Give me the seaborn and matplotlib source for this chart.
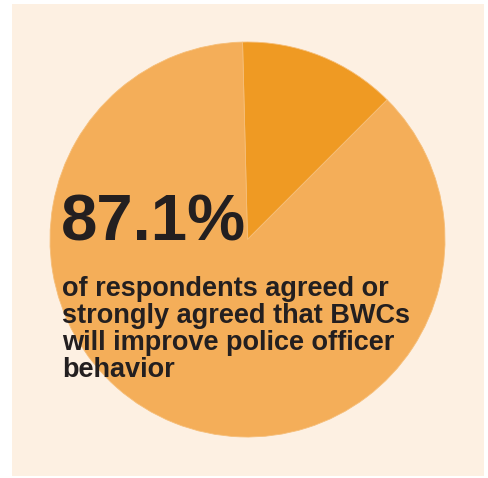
import matplotlib
matplotlib.use("Agg")
import matplotlib.pyplot as plt
import seaborn as sns

sns.set_style("white")
plt.rcParams['font.family'] = ['Liberation Sans', 'DejaVu Sans']

# Data
categories = ["Disagreed / neutral", "Agreed or strongly agreed"]
values = [12.9, 87.1]
colors = ["#EF9A23", "#F4AE59"]
headline = "87.1%"
caption_lines = [
    "of respondents agreed or",
    "strongly agreed that BWCs",
    "will improve police officer",
    "behavior",
]

W, H = 489, 478
fig = plt.figure(figsize=(W / 100, H / 100), dpi=100, facecolor="white")

# cream panel
bg = fig.add_axes([12 / W, 1 - 476 / H, (484 - 12) / W, (476 - 4) / H], zorder=0)
bg.set_facecolor("#FDF0E2")
bg.set_xticks([])
bg.set_yticks([])
for s in bg.spines.values():
    s.set_visible(False)

cx, cy, r = 247.5, 239.5, 197.5
ax = fig.add_axes([(cx - r) / W, (H - cy - r) / H, 2 * r / W, 2 * r / H], zorder=1)
ax.set_facecolor("none")
ax.pie(values, colors=colors, startangle=45, counterclock=True, radius=1,
       wedgeprops=dict(linewidth=0.6, edgecolor="#F6BE78"))
ax.set_xlim(-1, 1)
ax.set_ylim(-1, 1)
ax.set_aspect("equal")
ax.axis("off")

txt_color = "#231F20"
fig.text(61 / W, 1 - 241 / H, headline, fontsize=47, fontweight="bold",
         color=txt_color, va="baseline", ha="left", zorder=5)
for i, line in enumerate(caption_lines):
    fig.text(62 / W, 1 - (296 + 27 * i) / H, line, fontsize=19.5,
             fontweight="bold", color=txt_color, va="baseline", ha="left", zorder=5)

fig.savefig("out.png", dpi=100, facecolor="white")
